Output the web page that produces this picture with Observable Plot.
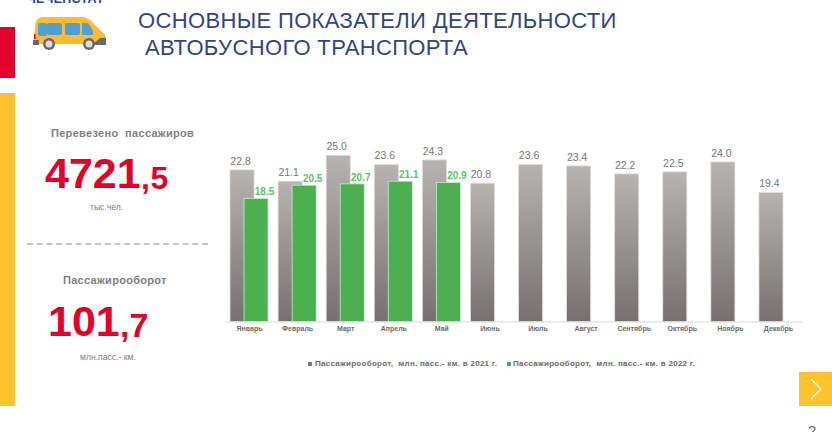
<!DOCTYPE html>
<html><head><meta charset="utf-8">
<script src="https://cdn.jsdelivr.net/npm/d3@7"></script>
<script src="https://cdn.jsdelivr.net/npm/@observablehq/plot@0.6"></script>
<style>
html,body{margin:0;padding:0;background:#fff;overflow:hidden;width:832px;height:432px;font-family:"Liberation Sans",Arial,sans-serif}
#page{position:relative;width:832px;height:432px;overflow:hidden}
#page>div{position:absolute;white-space:pre;line-height:1}
#page svg{display:block}
.t{color:#2f4587;font-family:"Liberation Sans";font-size:22px;letter-spacing:.35px}
.h{color:#7f7f7f;font-weight:bold;font-size:11px;letter-spacing:.3px}
.n{color:#e4002b;font-weight:bold}
.u{color:#808080;font-size:8.6px}
.l{color:#6f6a69;font-weight:bold;font-size:8px;letter-spacing:.28px}
.s{width:4px;height:4px}
</style></head>
<body><div id="page">
<div style="left:0;top:27px;width:15px;height:51px;background:#e4002b"></div>
<div style="left:0;top:93px;width:15px;height:313px;background:#ffc22d"></div>
<div style="left:27px;top:-7px;color:#2a3f8f;font-weight:bold;font-size:12.5px;letter-spacing:.25px">ЧЕЧЕНСТАТ</div>
<div style="left:32px;top:16px"><svg width="76" height="36" viewBox="0 0 76 36">
<path d="M3 10 Q4 1 11 1 L50 1 Q56 1 62 8 L71 17 Q74 19 74 22 L74 28 L2 28 Z" fill="#fdbb2d"/>
<rect x="6" y="7" width="9" height="13" rx="2" fill="#4f9fd6"/><rect x="15" y="7" width="15" height="12" rx="2" fill="#4f9fd6"/><rect x="33" y="7" width="15" height="12" rx="2" fill="#4f9fd6"/><path d="M50 7 L56 7 Q59 11 61 15 L61 19 L50 19 Z" fill="#4f9fd6"/>
<rect x="1" y="24" width="6" height="5" fill="#6a6a6a"/><path d="M52 29 L74 29 L74 22 L68 22 L60 29 Z" fill="#6a6a6a"/><rect x="2" y="18" width="1.5" height="5" fill="#e4002b"/>
<circle cx="17" cy="28" r="6" fill="#666"/><circle cx="17" cy="28" r="3.5" fill="#ddd"/><circle cx="57" cy="28" r="6" fill="#666"/><circle cx="57" cy="28" r="3.5" fill="#ddd"/>
</svg></div>
<div class="t" style="left:138px;top:10px">ОСНОВНЫЕ ПОКАЗАТЕЛИ ДЕЯТЕЛЬНОСТИ</div>
<div class="t" style="left:145px;top:37px">АВТОБУСНОГО ТРАНСПОРТА</div>
<div class="h" style="left:51px;top:128px">Перевезено  пассажиров</div>
<div class="n" style="left:45px;top:152px;font-size:43px">4721</div>
<div class="n" style="left:141px;top:162px;font-size:32px;letter-spacing:.5px">,5</div>
<div class="u" style="left:90px;top:203px">тыс.чел.</div>
<div style="left:27px;top:243px;width:181px;height:0;border-top:2px dashed #c4c4c4"></div>
<div class="h" style="left:63px;top:275px">Пассажирооборот</div>
<div class="n" style="left:48px;top:300px;font-size:43px">101</div>
<div class="n" style="left:120px;top:308px;font-size:34px">,7</div>
<div class="u" style="left:80px;top:353px">млн.пасс.- км.</div>
<div id="chart" style="left:0;top:0"></div>
<div class="s" style="left:308px;top:362px;background:#7f7a78"></div>
<div class="l" style="left:315px;top:360px">Пассажирооборот,  млн. пасс.- км. в 2021 г.</div>
<div class="s" style="left:507px;top:362px;background:#4caf50"></div>
<div class="l" style="left:513px;top:360px">Пассажирооборот,  млн. пасс.- км. в 2022 г.</div>
<div style="left:799px;top:372px;width:33px;height:34px;background:#ffc22d"><svg width="33" height="34"><path d="M12 7 L22 17 L12 27" fill="none" stroke="#fff" stroke-width="1.2"/></svg></div>
<div style="left:808px;top:423px;color:#666;font-size:15px">2</div>
</div>
<script>
const months = ["Январь","Февраль","Март","Апрель","Май","Июнь","Июль","Август","Сентябрь","Октябрь","Ноябрь","Декабрь"];
const values2021 = [22.8,21.1,25.0,23.6,24.3,20.8,23.6,23.4,22.2,22.5,24.0,19.4];
const values2022 = [18.5,20.5,20.7,21.1,20.9];
const rows2021 = months.map((m,i)=>({month:m,value:values2021[i]}));
const rows2022 = values2022.map((v,i)=>({month:months[i],value:v}));
const plot = Plot.plot({
  width:832, height:432,
  marginLeft:225, marginRight:30, marginTop:155.3, marginBottom:110.5,
  style:{background:"transparent",fontFamily:"Liberation Sans"},
  x:{domain:months,paddingInner:0.5,paddingOuter:0.25,round:false,label:null},
  y:{domain:[0,25],axis:null},
  marks:[
    ()=>{
      const s=d3.create("svg:g");
      const g=s.append("defs").append("linearGradient").attr("id","grayGrad").attr("x1",0).attr("x2",0).attr("y1",0).attr("y2",1);
      g.append("stop").attr("offset","0%").attr("stop-color","#b6b3b1");
      g.append("stop").attr("offset","100%").attr("stop-color","#767170");
      return s.node();
    },
    Plot.barY(rows2021,{x:"month",y:"value",dx:-7,fill:"url(#grayGrad)",stroke:"#dedcdb",strokeWidth:0.8}),
    Plot.barY(rows2022,{x:"month",y:"value",dx:7,fill:"#4caf50",stroke:"#cfe8d0",strokeWidth:0.8}),
    Plot.ruleY([0],{stroke:"#d9d9d9",strokeWidth:1}),
    Plot.text(rows2021,{x:"month",y:"value",text:d=>d.value.toFixed(1),dx:-9,dy:-9,fill:"#7c7775",fontSize:10.5}),
    Plot.text(rows2022,{x:"month",y:"value",text:d=>d.value.toFixed(1),dx:15,dy:-7,fill:"#5cc462",fontSize:10,fontWeight:"bold"}),
    Plot.axisX({tickSize:0,tickPadding:4,fontSize:7,fontWeight:"bold",fill:"#6f6a69",label:null})
  ]
});
document.getElementById("chart").append(plot);
</script>
</body></html>
